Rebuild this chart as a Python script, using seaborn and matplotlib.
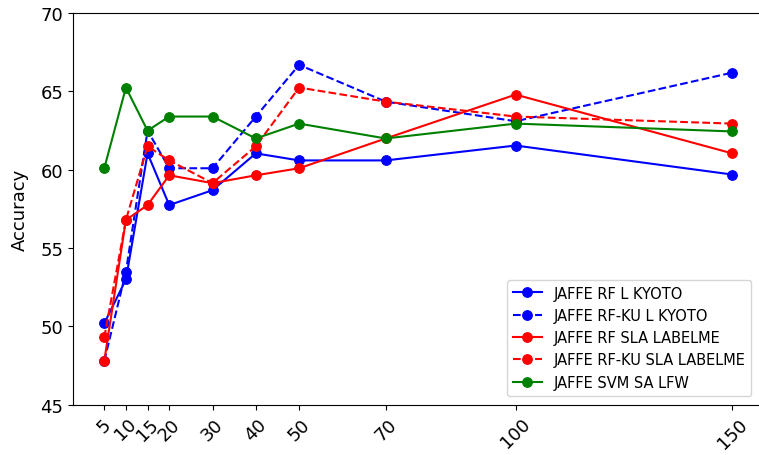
import numpy as np
import pandas as pd
import matplotlib
matplotlib.use("Agg")
import matplotlib.pyplot as plt
import seaborn as sns

# number of features / components on the x axis
n_feat = [5, 10, 15, 20, 30, 40, 50, 70, 100, 150]

rf_l_kyoto = [50.2, 53.0, 61.05, 57.75, 58.7, 61.05, 60.6, 60.6, 61.55, 59.7]
rfku_l_kyoto = [47.8, 53.5, 62.5, 60.1, 60.1, 63.4, 66.7, 64.35, 63.1, 66.2]
rf_sla_labelme = [47.8, 56.8, 57.75, 59.65, 59.15, 59.65, 60.1, 62.0, 64.8, 61.05]
rfku_sla_labelme = [49.3, 56.8, 61.5, 60.6, 59.15, 61.5, 65.25, 64.35, 63.4, 62.95]
svm_sa_lfw = [60.1, 65.25, 62.5, 63.4, 63.4, 62.0, 62.95, 62.0, 62.95, 62.45]

series = [
    ("JAFFE RF L KYOTO", rf_l_kyoto, "blue", "-"),
    ("JAFFE RF-KU L KYOTO", rfku_l_kyoto, "blue", "--"),
    ("JAFFE RF SLA LABELME", rf_sla_labelme, "red", "-"),
    ("JAFFE RF-KU SLA LABELME", rfku_sla_labelme, "red", "--"),
    ("JAFFE SVM SA LFW", svm_sa_lfw, "green", "-"),
]

fig = plt.figure(figsize=(7.59, 4.56), dpi=100)
ax = fig.add_axes([0.096, 0.11, 0.91, 0.859])

for name, vals, color, ls in series:
    df = pd.DataFrame({"n": n_feat, "acc": vals})
    sns.lineplot(data=df, x="n", y="acc", ax=ax, color=color, linestyle=ls,
                 marker="o", markersize=7, markeredgecolor=color,
                 linewidth=1.5, label=name)

ax.set_ylim(45, 70)
ax.set_xticks(n_feat)
ax.set_xticklabels([str(v) for v in n_feat], rotation=45, fontsize=13)
ax.tick_params(axis="y", labelsize=13)
ax.set_xlabel("")
ax.set_ylabel("Accuracy", fontsize=13)
ax.yaxis.set_label_coords(-0.064, 0.5)
ax.legend(loc="lower right", fontsize=10.5, bbox_to_anchor=(0.993, 0.005))

plt.savefig("out.png", dpi=100)
plt.close()
